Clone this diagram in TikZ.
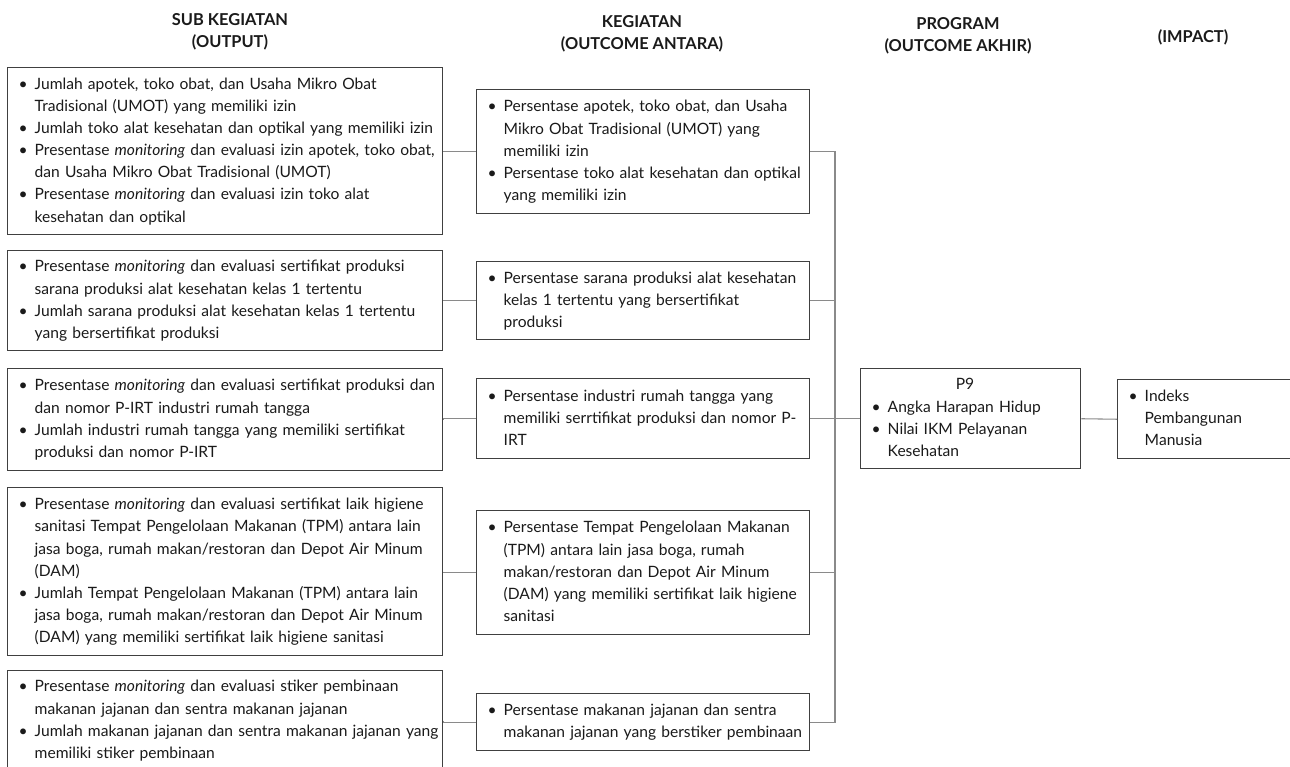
\documentclass[tikz,border=0pt]{standalone}
\usepackage{fontspec}
\setmainfont{Lato}
\definecolor{boxc}{HTML}{404040}
\definecolor{connc}{HTML}{8A8A8A}
\definecolor{txtc}{HTML}{1A1A1A}
\newcommand\bodyfont{\fontsize{11.7}{16.6}\selectfont}
\newcommand\headfont{\fontsize{12.3}{16.5}\selectfont\bfseries}
\newcommand\itm[1]{\noindent\begin{tabular}{@{\hspace{8.25pt}}p{12pt}@{}l@{}}#1\end{tabular}}
\begin{document}
\begin{tikzpicture}[x=0.75pt,y=-0.75pt,
  box/.style={draw=boxc, line width=1.1pt, anchor=north west, inner xsep=0pt, inner ysep=0pt,
    align=left, font=\bodyfont, text=txtc},
  lbox/.style={box, text width=326.25pt},
  mbox/.style={box, text width=249.75pt},
  head/.style={align=center, font=\headfont, text=txtc, inner sep=0pt},
  conn/.style={draw=connc, line width=0.8pt}]
\clip (0,0) rectangle (1290,767);
\useasboundingbox (0,0) rectangle (1290,767);

% headers
\node[head] (h1) at (230,32) {SUB KEGIATAN\\(OUTPUT)};
\node[head] (h2) at (642,34) {KEGIATAN\\(OUTCOME ANTARA)};
\node[head] (h3) at (958,36) {PROGRAM\\(OUTCOME AKHIR)};
\node[head] (h4) at (1193,37) {(IMPACT)};

% left column
\node[lbox, minimum height=125.25pt] (L1) at (7,67) {\itm{%
\textbullet & Jumlah apotek, toko obat, dan Usaha Mikro Obat\\
 & Tradisional (UMOT) yang memiliki izin\\
\textbullet & Jumlah toko alat kesehatan dan optikal yang memiliki izin\\
\textbullet & Presentase \emph{monitoring} dan evaluasi izin apotek, toko obat,\\
 & dan Usaha Mikro Obat Tradisional (UMOT)\\
\textbullet & Presentase \emph{monitoring} dan evaluasi izin toko alat\\
 & kesehatan dan optikal}};
\node[lbox, minimum height=75pt] (L2) at (7,250) {\itm{%
\textbullet & Presentase \emph{monitoring} dan evaluasi sertifikat produksi\\
 & sarana produksi alat kesehatan kelas 1 tertentu\\
\textbullet & Jumlah sarana produksi alat kesehatan kelas 1 tertentu\\
 & yang bersertifikat produksi}};
\node[lbox, minimum height=76.5pt] (L3) at (7,368) {\itm{%
\textbullet & Presentase \emph{monitoring} dan evaluasi sertifikat produksi dan\\
 & dan nomor P-IRT industri rumah tangga\\
\textbullet & Jumlah industri rumah tangga yang memiliki sertifikat\\
 & produksi dan nomor P-IRT}};
\node[lbox, minimum height=126pt] (L4) at (7,487) {\itm{%
\textbullet & Presentase \emph{monitoring} dan evaluasi sertifikat laik higiene\\
 & sanitasi Tempat Pengelolaan Makanan (TPM) antara lain\\
 & jasa boga, rumah makan/restoran dan Depot Air Minum\\
 & (DAM)\\
\textbullet & Jumlah Tempat Pengelolaan Makanan (TPM) antara lain\\
 & jasa boga, rumah makan/restoran dan Depot Air Minum\\
 & (DAM) yang memiliki sertifikat laik higiene sanitasi}};
\node[lbox, minimum height=75pt] (L5) at (7,670) {\itm{%
\textbullet & Presentase \emph{monitoring} dan evaluasi stiker pembinaan\\
 & makanan jajanan dan sentra makanan jajanan\\
\textbullet & Jumlah makanan jajanan dan sentra makanan jajanan yang\\
 & memiliki stiker pembinaan}};

% middle column
\node[mbox, minimum height=93pt] (M1) at (476,89) {\itm{%
\textbullet & Persentase apotek, toko obat, dan Usaha\\
 & Mikro Obat Tradisional (UMOT) yang\\
 & memiliki izin\\
\textbullet & Persentase toko alat kesehatan dan optikal\\
 & yang memiliki izin}};
\node[mbox, minimum height=58.5pt] (M2) at (476,261) {\itm{%
\textbullet & Persentase sarana produksi alat kesehatan\\
 & kelas 1 tertentu yang bersertifikat\\
 & produksi}};
\node[mbox, minimum height=60pt] (M3) at (476,378) {\itm{%
\textbullet & Persentase industri rumah tangga yang\\
 & memiliki serrtifikat produksi dan nomor P-\\
 & IRT}};
\node[mbox, minimum height=93pt] (M4) at (476,510) {\itm{%
\textbullet & Persentase Tempat Pengelolaan Makanan\\
 & (TPM) antara lain jasa boga, rumah\\
 & makan/restoran dan Depot Air Minum\\
 & (DAM) yang memiliki sertifikat laik higiene\\
 & sanitasi}};
\node[mbox, minimum height=42.75pt] (M5) at (476,693) {\itm{%
\textbullet & Persentase makanan jajanan dan sentra\\
 & makanan jajanan yang berstiker pembinaan}};

% program and impact
\node[box, text width=165pt, minimum height=75pt] (P9) at (860,368) {\itm{%
\multicolumn{2}{@{}c@{}}{\hspace{8.25pt}\makebox[140pt][c]{P9}}\\
\textbullet & Angka Harapan Hidup\\
\textbullet & Nilai IKM Pelayanan\\
 & Kesehatan}};
\node[box, text width=150pt, minimum height=59.25pt] (IM) at (1117,379) {\itm{%
\textbullet & Indeks\\
 & Pembangunan\\
 & Manusia}};

% connectors
\coordinate (bus) at (835,0);
\foreach \n in {1,...,5}{\draw[conn] (L\n.east) -- (M\n.east -| L\n.east) -- (M\n.west);}
\draw[conn] (M1.east) -- (M1.east -| bus) -- (M5.east -| bus) -- (M5.east);
\draw[conn] (M2.east) -- (M2.east -| bus);
\draw[conn] (M3.east) -- (M3.east -| bus);
\draw[conn] (M4.east) -- (M4.east -| bus);
\draw[conn] (P9.west -| bus) -- (P9.west);
\draw[conn] (P9.east) -- (IM.west);
\end{tikzpicture}
\end{document}
